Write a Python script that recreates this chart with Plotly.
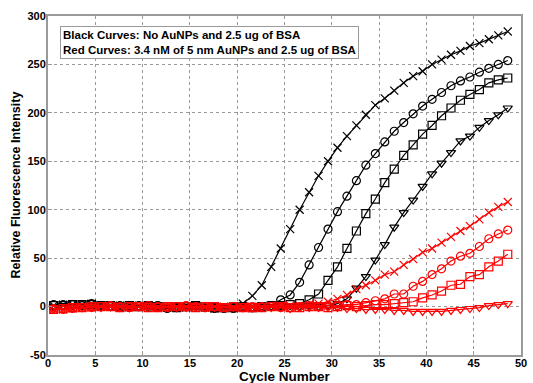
import plotly.graph_objects as go

# Cycle positions of the markers
cycles = [round(0.6 + i, 1) for i in range(49)]

black_x = [1, 2, 2, 2, 3, 1, 0, 1, 0, 1, 1, 0, -1, 0, -1, 0, -1, -2, -1, 0,
           3, 11, 22, 41, 60, 80, 100, 118, 135, 150, 164, 176, 187, 198, 208, 215, 223, 231, 238,
           243, 250, 255, 260, 264, 269, 272, 276, 280, 284]
black_circle = [2, 2, 2, 1, 3, 1, 0, 1, -1, 1, 0, 1, -2, -1, 0, 1, -1, -2, -2, -2, -1, -1, 0, 1,
                7, 12, 25, 43, 61, 80, 98, 114, 130, 146, 158, 170, 181, 190, 199, 207, 214, 221,
                228, 233, 237, 242, 246, 250, 254]
black_square = [1, 1, 2, 2, 2, 1, 1, 0, 1, 0, 1, 0, 0, -1, 0, 1, 0, -1, -1, -1, 0, -1, 0, 1, 1, 2,
                3, 7, 13, 27, 41, 60, 78, 96, 111, 128, 142, 156, 167, 178, 187, 197, 205, 213,
                219, 224, 231, 234, 236]
black_tri = [0, 1, 1, 1, 2, 1, 0, 1, 0, 0, 1, 0, -1, 0, 0, 1, 0, -1, -1, 0, 0, -1, 0, 0, 1, 1,
             0, 1, 0, 1,
             3, 8, 19, 31, 48, 64, 82, 97, 110, 124, 137, 148, 159, 171, 176, 185, 192, 198, 205]
red_x = [-3, -3, -2, -1, -1, 0, 0, 0, -1, 0, 0, -1, 0, 0, 0, 0, -1, 0, 0, -1, 0, 0, 0, 1, 1, 1, 1,
         2, 3, 5, 8, 12, 18, 22, 27, 33, 36, 43, 49, 56, 60, 66, 72, 78, 83, 90, 97, 103, 108]
red_circle = [-2, -3, -2, -1, -1, 0, 1, 0, -1, 0, 1, 0, -1, 0, 1, 0, -1, 0, -1, 0, -1, 0, 0, 0,
              -1, -1, 0, 1, 0, 1, 1, 2, 2,
              4, 6, 8, 13, 13, 21, 26, 33, 39, 47, 52, 55, 62, 70, 75, 79]
red_square = [-3, -2, -1, -1, 0, 0, 0, -1, 0, 0, -1, -1, 0, 0, 0, -1, 0, 0, -1, 0, -1, -1, -1, 0,
              0, -1, -1, 0, 0, -1, 0, 1, 0, 1, 2, 2,
              3, 4, 5, 9, 12, 16, 22, 23, 31, 33, 41, 47, 54]
red_tri = [-2, -2, -1, -1, 0, -1, 0, -1, -1, 0, -1, -1, 0, -1, -1, 0, -1, -1, 0, -1, -1, -1, -1, -1,
           -1, -2, -1, -1, -1, -1,
           -1, -2, -2, -3, -3, -3, -4, -4, -5, -5, -5, -5, -4, -3, -2, -1, 1, 2, 3]

x_ticks = [0, 5, 10, 15, 20, 25, 30, 35, 40, 45, 50]
y_ticks = [-50, 0, 50, 100, 150, 200, 250, 300]

legend_lines = ["Black Curves: No AuNPs and 2.5 ug of BSA",
                "Red Curves: 3.4 nM of 5 nm AuNPs and 2.5 ug of BSA"]

series = [
    (black_x, "black", "x-thin-open"),
    (black_circle, "black", "circle-open"),
    (black_square, "black", "square-open"),
    (black_tri, "black", "triangle-down-open"),
    (red_x, "#ff0000", "x-thin-open"),
    (red_circle, "#ff0000", "circle-open"),
    (red_square, "#ff0000", "square-open"),
    (red_tri, "#ff0000", "triangle-down-open"),
]

fig = go.Figure()
for vals, col, sym in series:
    fig.add_trace(go.Scatter(
        x=cycles, y=vals, mode="lines+markers",
        line=dict(color=col, width=1.2),
        marker=dict(symbol=sym, size=8, color=col,
                    line=dict(color=col, width=1.2)),
        showlegend=False))

font = "Liberation Sans, Arial, sans-serif"
axis_common = dict(
    showgrid=True, gridcolor="#9a9a9a", griddash="dot", gridwidth=1,
    showline=True, linecolor="#9a9a9a", linewidth=2, mirror=True,
    ticks="inside", ticklen=4, tickcolor="#9a9a9a",
    zeroline=False,
    tickfont=dict(family=font, size=11, color="black", weight="bold"),
)

fig.update_layout(
    width=533, height=383,
    margin=dict(l=48, r=6, t=16, b=28),
    paper_bgcolor="white", plot_bgcolor="white",
    xaxis=dict(range=[0, 50], tickvals=x_ticks, ticktext=[str(v) for v in x_ticks],
               ticklabelstandoff=-3, **axis_common),
    yaxis=dict(range=[-50, 300], tickvals=y_ticks, ticktext=[str(v) for v in y_ticks],
               ticklabelstandoff=-2, **axis_common),
    annotations=[
        dict(text="<b>Cycle Number</b>", x=0.5, y=0, xref="paper", yref="paper",
             xanchor="center", yanchor="middle", yshift=-21, showarrow=False,
             borderpad=0,
             font=dict(family=font, size=13.5, color="black")),
        dict(text="<b>Relative Fluorescence Intensity</b>", x=0, y=0.5, xref="paper",
             yref="paper", xanchor="right", yanchor="middle", xshift=-24, textangle=-90,
             showarrow=False, font=dict(family=font, size=12.5, color="black")),
        dict(text="<b>" + legend_lines[0] + "</b><br><b>" + legend_lines[1] + "</b>",
             x=0.025, y=0.97, xref="paper", yref="paper", xanchor="left", yanchor="top",
             align="left", showarrow=False, bgcolor="white", bordercolor="#9a9a9a",
             borderwidth=1, borderpad=2,
             font=dict(family=font, size=11.5, color="black")),
    ],
)

fig.write_html("out.html", config={"displayModeBar": False},
               post_script="document.body.style.margin='0';")
